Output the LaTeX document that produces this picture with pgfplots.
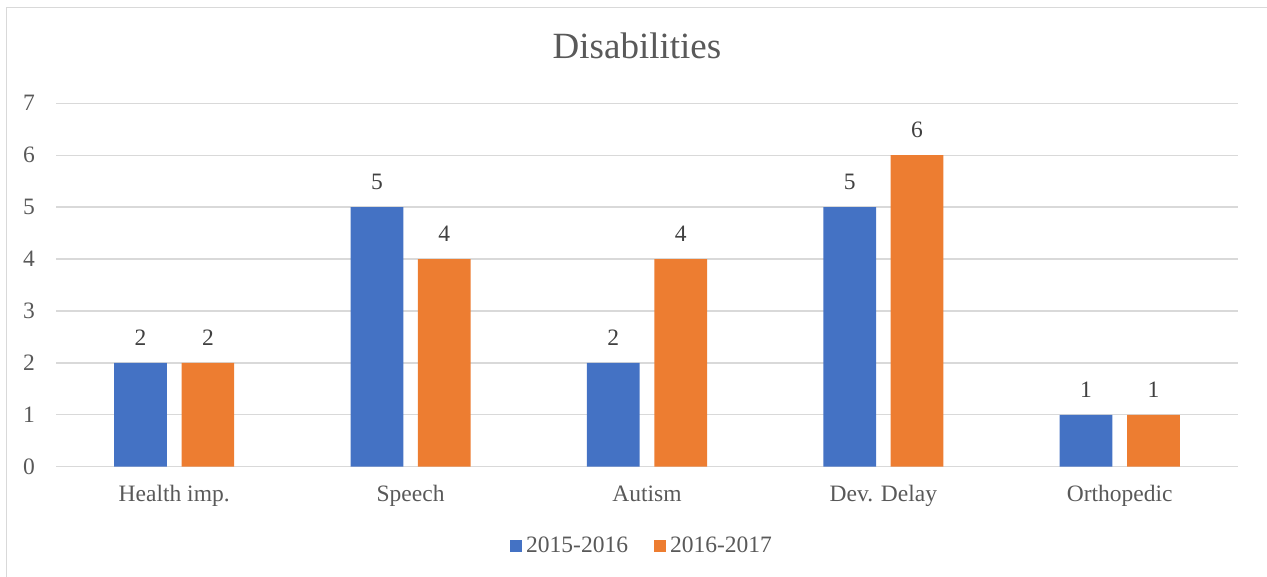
\documentclass[border=0pt]{standalone}
\usepackage{pgfplots}
\pgfplotsset{compat=1.18}
\usepackage{fontspec}
\setmainfont{Liberation Serif}
\definecolor{cblue}{HTML}{4472C4}
\definecolor{corange}{HTML}{ED7D31}
\definecolor{gridc}{HTML}{D9D9D9}
\definecolor{txt}{HTML}{595959}
\definecolor{lbl}{HTML}{404040}
\begin{document}
\begin{tikzpicture}
\path[use as bounding box] (0,0) rectangle (1267bp,577bp);
\draw[gridc, line width=1.3bp] (6.5bp,0) -- (6.5bp,569.5bp) -- (1267bp,569.5bp);
\node[txt, font=\fontsize{37bp}{44bp}\selectfont, anchor=base, inner sep=0] at (637bp,518.5bp) {Disabilities};
\begin{axis}[
  at={(56bp,110.3bp)}, anchor=south west, scale only axis,
  width=1182bp, height=363.4bp,
  xmin=-0.5, xmax=4.5, ymin=0, ymax=7,
  ybar, bar width=0.223,
  axis line style={draw=none},
  major tick length=0,
  ymajorgrids, grid style={gridc, line width=1.3bp},
  ytick={0,1,...,7},
  xtick={0,1,2,3,4},
  xticklabels={Health imp., Speech, Autism, Dev. Delay, Orthopedic},
  /pgf/number format/assume math mode=true,
  tick label style={txt, font=\fontsize{23.5bp}{27bp}\selectfont, inner sep=0},
  yticklabel style={anchor=east, xshift=-21bp},
  xticklabel style={anchor=base, yshift=-35bp},
  nodes near coords,
  every node near coord/.append style={lbl, font=\fontsize{23.5bp}{27bp}\selectfont, anchor=base, inner sep=0, yshift=17.5bp},
  legend columns=2,
  legend style={at={(0.495,-0.218)}, anchor=center, draw=none, fill=none, inner sep=0,
    font=\fontsize{23.5bp}{27bp}\selectfont, text=txt,
    nodes={inner sep=0},
    /tikz/every odd column/.append style={column sep=4bp},
    /tikz/every even column/.append style={column sep=26bp}},
  legend image code/.code={\fill[#1] (0bp,-5.8bp) rectangle (12bp,5.8bp);},
]
\addplot[fill=cblue, draw=none, bar shift=-0.1425] coordinates {(0,2) (1,5) (2,2) (3,5) (4,1)};
\addplot[fill=corange, draw=none, bar shift=0.1425] coordinates {(0,2) (1,4) (2,4) (3,6) (4,1)};
\legend{2015-2016, 2016-2017}
\end{axis}
\end{tikzpicture}
\end{document}
